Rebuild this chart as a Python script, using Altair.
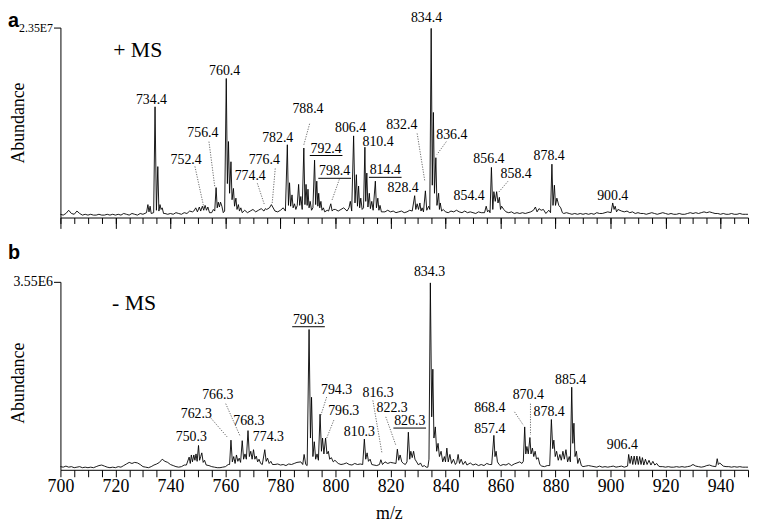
import altair as alt
import pandas as pd

FONT = "Liberation Serif"
W, H1, H2 = 695, 192, 190

X_MINOR_TICKS = list(range(700, 951, 5))
X_MAJOR_TICKS = [700, 720, 740, 760, 780, 800, 820, 840, 860, 880, 900, 920, 940]

NOISE_START = 700
# ---------- panel a (+MS), abundance in units of 1e6 ----------
TOP_NOISE = [
    0.4, 0.3, 0.5, 0.9, 0.5, 0.4, 0.8, 0.5, 0.3, 0.4,
    0.3, 0.4, 0.3, 0.3, 0.4, 0.3, 0.3, 0.4, 0.3, 0.4,
    0.3, 0.4, 0.3, 0.5, 0.4, 0.3, 0.5, 0.4, 0.3, 0.5,
    0.4, 0.5, 0.6, 0.5, 0.5, 0.6, 0.6, 0.8, 0.5, 0.4,
    0.5, 0.4, 0.6, 0.5, 0.4, 0.6, 0.5, 0.8, 0.7, 0.9,
    1.0, 0.8, 1.2, 0.9, 0.7, 1.0, 0.8, 1.5, 1.2, 1.4,
    1.0, 1.2, 1.0, 1.3, 1.1, 1.0, 1.3, 0.9, 0.6, 0.8,
    1.0, 0.7, 0.9, 1.1, 0.8, 1.0, 1.2, 1.0, 0.8, 0.7,
    0.9, 1.2, 1.5, 2.0, 1.8, 1.6, 2.0, 1.8, 1.5, 1.6,
    1.8, 1.4, 1.6, 1.8, 1.5, 1.2, 1.0, 0.9, 1.1, 0.8,
    1.0, 0.8, 1.0, 1.2, 0.9, 1.2, 1.5, 1.8, 1.6, 1.4,
    1.5, 1.8, 1.4, 1.3, 1.5, 1.2, 0.9, 0.8, 0.7, 0.9,
    0.7, 0.8, 0.6, 0.7, 0.8, 0.6, 0.7, 0.9, 1.0, 1.2,
    1.2, 1.0, 1.3, 1.1, 1.5, 2.0, 2.0, 1.6, 1.2, 0.9,
    0.7, 0.6, 0.8, 0.7, 0.9, 0.7, 0.6, 0.8, 0.6, 0.7,
    0.6, 0.5, 0.7, 0.6, 0.8, 0.9, 1.2, 1.4, 1.4, 1.2,
    1.0, 0.8, 0.7, 0.6, 0.7, 0.5, 0.6, 0.5, 0.6, 0.5,
    0.6, 0.7, 0.9, 0.8, 0.9, 0.7, 0.6, 0.7, 1.0, 1.4,
    1.2, 0.9, 0.7, 0.5, 0.6, 0.5, 0.4, 0.5, 0.4, 0.5,
    0.4, 0.5, 0.4, 0.5, 0.4, 0.6, 0.5, 0.5, 0.6, 0.7,
    0.9, 1.0, 0.8, 0.6, 0.8, 0.7, 0.8, 0.6, 0.7, 0.5,
    0.6, 0.5, 0.5, 0.4, 0.5, 0.6, 0.5, 0.4, 0.5, 0.6,
    0.5, 0.4, 0.5, 0.4, 0.4, 0.5, 0.4, 0.4, 0.5, 0.6,
    0.5, 0.6, 0.5, 0.6, 0.7, 0.6, 0.7, 0.6, 0.5, 0.5,
    0.4, 0.5, 0.4, 0.4, 0.5, 0.4, 0.4, 0.5, 0.4, 0.4,
    0.4,
]
TOP_PEAKS = [
    (731.3, 0.6), (731.8, 1.6), (732.2, 0.7), (732.6, 1.4), (733.0, 0.5), (733.9, 0.6),
    (734.4, 13.7), (734.9, 0.9), (735.4, 6.3), (735.8, 0.8), (736.2, 1.6), (736.6, 1.0),
    (737.0, 1.2), (737.5, 0.5),
    (748.5, 0.8), (749.2, 1.2), (749.8, 0.7), (750.5, 1.3), (751.0, 0.8), (751.6, 1.4),
    (752.1, 0.9), (752.6, 1.5), (753.1, 0.9), (753.6, 1.3), (754.2, 0.6), (755.0, 0.6),
    (755.6, 1.0), (756.1, 0.8), (756.6, 3.7), (757.0, 1.2), (757.4, 1.9), (757.8, 1.3),
    (758.2, 1.9), (758.7, 1.4), (759.2, 0.6), (759.7, 0.8),
    (760.3, 17.2), (760.7, 4.2), (761.1, 9.4), (761.5, 3.0), (762.0, 6.9), (762.4, 2.2),
    (762.9, 3.6), (763.3, 1.4), (763.8, 2.4), (764.2, 1.0), (764.7, 1.6), (765.1, 0.8),
    (765.6, 1.2), (766.1, 0.6),
    (774.5, 1.1), (776.7, 1.6),
    (781.8, 0.8), (782.5, 9.0), (782.9, 1.5), (783.3, 4.3), (783.7, 1.4), (784.2, 2.8),
    (784.6, 1.2), (785.1, 1.7), (785.6, 1.0), (786.1, 1.5), (786.6, 4.1), (787.0, 1.5),
    (787.4, 2.6), (787.9, 1.0), (788.5, 8.6), (788.9, 1.6), (789.3, 4.1), (789.7, 1.5),
    (790.0, 3.5), (790.4, 1.2), (790.8, 2.0), (791.3, 0.9), (791.8, 1.2), (792.4, 7.1),
    (792.8, 1.6), (793.2, 4.5), (793.6, 1.4), (793.9, 3.0), (794.3, 1.2), (794.7, 2.0),
    (795.1, 0.9), (795.6, 1.2), (796.1, 0.7),
    (797.5, 0.8), (798.3, 1.7), (798.8, 0.8), (799.3, 1.0),
    (804.2, 0.8), (804.9, 1.2), (805.4, 2.0), (805.9, 0.8), (806.6, 10.1), (807.1, 1.8),
    (807.6, 5.3), (808.0, 1.4), (808.4, 3.9), (808.8, 1.2), (809.2, 2.4), (809.7, 1.0),
    (810.2, 1.2), (810.7, 8.7), (811.0, 2.0), (811.4, 5.5), (811.8, 1.3), (812.3, 3.0),
    (812.7, 1.1), (813.2, 2.0), (813.7, 0.9), (814.5, 4.5), (814.9, 1.2), (815.4, 2.4),
    (815.8, 0.9), (816.2, 1.5), (816.7, 0.7),
    (827.9, 0.8), (828.8, 2.7), (829.2, 1.0), (829.7, 1.7), (830.2, 1.0), (830.7, 1.8),
    (831.1, 0.8), (831.5, 1.2), (832.0, 0.7), (832.7, 3.3), (833.2, 0.9), (833.9, 1.4),
    (834.3, 1.0), (834.8, 23.4), (835.2, 4.0), (835.6, 13.0), (836.0, 3.0), (836.5, 7.4),
    (836.9, 1.5), (837.5, 3.0), (837.8, 1.0), (838.1, 1.8), (838.6, 0.8), (839.2, 1.0),
    (854.2, 0.6), (854.8, 1.4), (855.3, 0.7), (855.8, 0.9), (856.2, 0.6), (856.7, 6.2),
    (857.2, 1.0), (857.6, 3.2), (858.1, 2.0), (858.6, 3.2), (859.1, 1.8), (859.6, 2.5),
    (860.0, 1.0), (860.4, 1.4), (861.2, 1.0),
    (872.7, 1.3), (873.3, 0.7), (874.0, 1.1), (874.8, 0.9), (875.6, 1.0), (876.5, 0.5),
    (877.6, 0.9), (878.2, 0.6), (878.7, 6.6), (879.1, 1.5), (879.6, 4.0), (880.0, 1.5),
    (880.5, 2.4), (881.2, 1.5), (881.9, 1.2), (882.5, 0.6),
    (900.2, 0.6), (900.8, 1.8), (901.3, 1.0), (901.7, 1.4), (902.2, 0.7), (902.7, 1.0),
]
TOP_LABELS = [
    ("834.4", 833.1, 24.7), ("760.4", 759.7, 18.1), ("734.4", 733.1, 14.5),
    ("756.4", 751.8, 10.4), ("752.4", 745.7, 7.06), ("774.4", 769.0, 5.09),
    ("776.4", 774.1, 7.06), ("782.4", 779.0, 9.88), ("788.4", 790.0, 13.44),
    ("792.4", 796.6, 8.53), ("798.4", 799.7, 5.71), ("806.4", 805.5, 11.1),
    ("810.4", 815.5, 9.39), ("814.4", 818.1, 5.83), ("828.4", 824.6, 3.66),
    ("832.4", 824.1, 11.47), ("836.4", 842.3, 10.25), ("854.4", 848.6, 2.64),
    ("856.4", 855.8, 7.18), ("858.4", 865.7, 5.34), ("878.4", 877.7, 7.55),
    ("900.4", 900.8, 2.64),
]
TOP_UNDERLINED = ["792.4", "798.4", "814.4"]
TOP_LEADERS = [
    (754.0, 9.39, 756.1, 3.87), (748.9, 6.32, 752.2, 1.17), (771.6, 4.23, 774.1, 1.66),
    (778.1, 6.07, 777.0, 1.78), (790.6, 11.6, 788.5, 9.0), (801.4, 4.72, 798.6, 2.02),
    (829.7, 10.4, 832.5, 4.48), (840.3, 9.39, 836.9, 7.79), (862.7, 4.48, 859.1, 3.04),
]

# ---------- panel b (-MS), abundance in units of 1e5 ----------
BOT_NOISE = [
    0.6, 0.5, 0.7, 0.5, 0.6, 0.4, 0.5, 0.6, 0.4, 0.5,
    0.4, 0.5, 0.4, 0.6, 0.8, 0.9, 0.7, 0.5, 0.4, 0.5,
    0.4, 0.6, 0.5, 0.8, 1.1, 1.4, 1.2, 1.4, 1.3, 1.0,
    0.6, 0.5, 0.4, 0.6, 0.9, 1.1, 1.4, 2.0, 1.6, 1.4,
    1.0, 0.8, 0.6, 0.5, 0.6, 0.9, 1.2, 2.4, 2.8, 3.0,
    3.5, 2.6, 1.8, 1.0, 0.8, 0.6, 0.5, 0.4, 0.4, 0.5,
    0.6, 1.0, 1.5, 2.0, 1.8, 2.2, 2.5, 2.4, 2.6, 2.8,
    2.4, 2.0, 2.0, 1.4, 1.6, 1.8, 1.3, 1.2, 1.0, 1.1,
    0.9, 1.0, 0.8, 1.1, 1.0, 1.2, 1.4, 1.5, 1.8, 1.6,
    3.0, 3.0, 2.5, 2.2, 2.5, 2.8, 2.6, 2.2, 1.8, 1.5,
    1.3, 1.2, 1.0, 1.1, 1.3, 1.0, 0.9, 1.2, 1.0, 1.1,
    1.5, 2.0, 1.6, 1.2, 0.9, 0.8, 1.0, 1.2, 1.5, 1.2,
    1.4, 1.3, 1.8, 1.9, 1.6, 1.2, 1.5, 2.0, 2.2, 1.6,
    0.9, 1.2, 0.6, 0.5, 0.5, 8.0, 6.0, 4.0, 2.5, 2.0,
    2.2, 2.0, 1.4, 1.6, 1.8, 1.5, 1.3, 1.4, 1.0, 1.3,
    0.9, 1.1, 0.8, 1.0, 0.8, 1.2, 1.0, 1.5, 1.8, 1.2,
    0.8, 1.0, 0.9, 1.2, 0.8, 1.1, 1.3, 1.5, 2.0, 2.5,
    2.5, 2.3, 2.0, 1.6, 1.0, 0.7, 0.6, 0.8, 2.0, 2.2,
    2.0, 2.0, 2.2, 2.0, 1.8, 2.0, 4.0, 2.0, 1.5, 0.9,
    0.6, 0.7, 0.8, 0.7, 0.6, 0.5, 0.7, 0.5, 0.6, 0.5,
    0.6, 0.7, 0.5, 0.6, 0.7, 0.5, 0.8, 1.5, 1.5, 1.5,
    1.4, 1.4, 1.3, 1.2, 1.1, 1.0, 0.9, 0.8, 0.6, 0.6,
    0.5, 0.6, 0.5, 0.5, 0.6, 0.5, 0.6, 0.5, 0.6, 0.7,
    1.0, 0.7, 0.6, 0.5, 0.6, 0.8, 0.9, 0.7, 0.8, 1.4,
    0.8, 0.7, 0.6, 0.6, 0.5, 0.6, 0.5, 0.6, 0.5, 0.5,
    0.5,
]
BOT_PEAKS = [
    (745.8, 0.9), (746.8, 2.4), (747.2, 1.2), (747.6, 2.8), (748.0, 1.5), (748.5, 2.8),
    (748.9, 1.8), (749.3, 3.0), (749.7, 1.6), (750.2, 4.6), (750.6, 1.8), (751.0, 2.5),
    (751.4, 3.2), (751.9, 1.4), (752.4, 1.8), (753.0, 0.9),
    (761.5, 1.0), (762.0, 5.6), (762.5, 1.5), (763.0, 2.5), (763.5, 1.2), (764.0, 2.8),
    (764.5, 1.6), (765.0, 2.2), (765.5, 1.4), (766.1, 5.5), (766.6, 2.0), (767.1, 3.0),
    (767.6, 2.0), (768.2, 7.4), (768.7, 2.5), (769.2, 3.5), (769.7, 2.0), (770.2, 3.8),
    (770.7, 2.0), (771.2, 2.6), (771.7, 1.5), (772.2, 2.0), (772.8, 1.2), (773.4, 1.0),
    (774.3, 3.8), (774.8, 1.6), (775.3, 2.2), (775.9, 1.2), (776.5, 1.6), (777.1, 1.0),
    (787.4, 1.5), (788.1, 1.0), (788.6, 2.9), (789.2, 1.0), (789.7, 0.8), (790.4, 26.5),
    (790.9, 6.0), (791.3, 13.7), (791.8, 2.5), (792.3, 5.3), (792.8, 2.0), (793.3, 3.0),
    (793.8, 1.8), (794.4, 10.5), (794.9, 3.5), (795.3, 6.0), (795.8, 3.0), (796.4, 6.0),
    (796.9, 3.0), (797.4, 3.5), (797.9, 2.0), (798.5, 2.3), (799.2, 1.5), (799.8, 1.8),
    (809.9, 1.0), (810.5, 5.8), (811.0, 2.0), (811.5, 3.2), (812.0, 1.6), (812.6, 2.0),
    (813.2, 1.0),
    (816.5, 1.9), (817.1, 1.0),
    (822.0, 1.2), (822.5, 3.9), (823.0, 1.8), (823.5, 2.8), (824.1, 1.5), (824.7, 1.2),
    (825.4, 1.0), (826.0, 1.5), (826.5, 7.1), (827.0, 2.0), (827.4, 3.5), (827.9, 2.3),
    (828.4, 3.5), (828.9, 2.0), (829.5, 1.5), (830.2, 0.9), (830.9, 1.3), (831.6, 0.6),
    (832.3, 0.8), (833.0, 0.5), (833.6, 0.5), (834.0, 2.0), (834.5, 35.3), (835.0, 10.0),
    (835.4, 19.0), (835.8, 6.0), (836.3, 8.1), (836.8, 3.5), (837.3, 5.0), (837.8, 2.5),
    (838.4, 3.5), (839.0, 1.5), (839.6, 2.5), (840.0, 1.5), (840.5, 4.1), (841.0, 1.5),
    (841.6, 2.9), (842.2, 1.2), (842.9, 2.0), (843.6, 1.0), (844.1, 1.4), (844.6, 2.9),
    (845.1, 1.2), (845.7, 2.0), (846.4, 1.0), (847.2, 1.6), (847.8, 0.9),
    (856.8, 1.0), (857.6, 6.5), (858.0, 2.5), (858.4, 3.5), (858.9, 1.5), (859.5, 1.0),
    (867.8, 1.2), (868.3, 1.6), (868.8, 8.1), (869.2, 3.0), (869.6, 4.4), (870.1, 3.0),
    (870.7, 6.1), (871.1, 3.0), (871.6, 4.1), (872.1, 2.5), (872.6, 3.5), (873.1, 2.0),
    (873.7, 2.3), (874.3, 1.0),
    (877.9, 0.8), (878.5, 9.5), (879.0, 4.0), (879.4, 5.6), (879.9, 2.5), (880.4, 3.5),
    (881.0, 1.8), (881.6, 2.9), (882.1, 1.8), (882.7, 3.5), (883.2, 2.0), (883.8, 3.8),
    (884.4, 1.5), (885.0, 2.5), (885.4, 1.5), (885.9, 15.6), (886.3, 5.0), (886.7, 8.8),
    (887.1, 2.5), (887.6, 3.5), (888.1, 1.2), (888.7, 2.2), (889.4, 0.8),
    (906.2, 0.7), (906.6, 2.9), (907.1, 1.2), (907.6, 2.6), (908.1, 1.0), (908.6, 2.6),
    (909.1, 1.0), (909.6, 2.6), (910.1, 1.0), (910.6, 2.5), (911.1, 1.0), (911.6, 2.3),
    (912.1, 0.9), (912.7, 2.0), (913.3, 1.0), (914.0, 1.8), (914.7, 0.9), (915.4, 1.6),
    (916.1, 0.9), (916.8, 1.2), (917.5, 0.7),
    (938.3, 0.6), (938.8, 2.1), (939.2, 1.0), (939.7, 1.3),
]
BOT_LABELS = [
    ("834.3", 834.2, 37.3), ("790.3", 790.2, 28.33), ("766.3", 757.2, 14.04),
    ("762.3", 749.4, 10.62), ("768.3", 768.5, 9.19), ("750.3", 747.6, 6.10),
    ("774.3", 775.6, 6.10), ("794.3", 800.4, 15.1), ("796.3", 803.0, 11.05),
    ("810.3", 808.7, 7.21), ("816.3", 815.5, 14.45), ("822.3", 820.6, 11.69),
    ("826.3", 827.0, 9.19), ("868.4", 856.1, 11.69), ("870.4", 870.1, 14.17),
    ("857.4", 856.1, 7.70), ("878.4", 877.7, 10.94), ("885.4", 885.5, 16.96),
    ("906.4", 904.3, 4.60),
]
BOT_UNDERLINED = ["790.3", "826.3"]
BOT_LEADERS = [
    (760.1, 12.49, 765.4, 6.28), (754.2, 10.07, 760.8, 6.10), (796.8, 13.74, 794.7, 10.31),
    (799.4, 9.38, 796.8, 5.97), (813.6, 13.1, 816.9, 3.17), (818.3, 10.0, 821.9, 4.72),
    (865.1, 10.94, 868.3, 8.44), (870.9, 12.49, 870.9, 6.58),
]


def spectrum_frame(noise, peaks):
    pk = [p[0] for p in peaks]
    rows = []
    for i, v in enumerate(noise):
        m = NOISE_START + i
        if min(abs(m - p) for p in pk) >= 0.5:
            rows.append((float(m), v))
    rows += [(float(a), b) for a, b in peaks]
    rows.sort()
    return pd.DataFrame(rows, columns=["mz", "ab"])


def panel(noise, peaks, labels, underlined, leaders, ms_text, ms_pos, letter, letter_y,
          ymax, ytick_text, ytick_size, height, is_bottom, title_shift):
    xs = alt.Scale(domain=[700, 950], nice=False, zero=False)
    ys = alt.Scale(domain=[0, ymax], nice=False, zero=False)
    px_per_mz = W / 250.0
    yax = alt.Axis(values=[ymax], labelExpr=f"'{ytick_text}'", tickSize=7, tickColor="black",
                   domainColor="black", labelFont=FONT, labelFontSize=ytick_size,
                   labelColor="black", labelPadding=1, grid=False, title="Abundance",
                   titleFont=FONT, titleFontSize=18, titleFontWeight="normal",
                   titleColor="black", titleX=-37, titleY=height / 2 + title_shift,
                   titleBaseline="alphabetic", titleAngle=270)
    spec = spectrum_frame(noise, peaks)

    if is_bottom:
        x_main = alt.Axis(values=X_MINOR_TICKS, tickSize=7, tickColor="black",
                          domainColor="black", grid=False, labelFont=FONT,
                          labelFontSize=18, labelColor="black", labelPadding=1,
                          labelOverlap=False, labelFlush=False,
                          labelExpr="datum.value % 20 == 0 ? datum.label : ''",
                          title="m/z", titleFont=FONT, titleFontSize=18,
                          titleFontWeight="normal", titleColor="black", titlePadding=9,
                          titleX=332, orient="bottom")
        x_text = x_main
        x_other = x_main
    else:
        x_main = alt.Axis(values=X_MINOR_TICKS, tickSize=6, tickColor="black",
                          domainColor="black", grid=False, labels=False, title=None,
                          orient="bottom")
        x_text = alt.Axis(values=X_MAJOR_TICKS, tickSize=11, tickColor="black",
                          domain=False, grid=False, labels=False, title=None,
                          orient="bottom")
        x_other = None

    line = alt.Chart(spec).mark_line(color="black", strokeWidth=0.9).encode(
        x=alt.X("mz:Q", scale=xs, axis=x_main),
        y=alt.Y("ab:Q", scale=ys, axis=yax),
    )

    lab = pd.DataFrame(labels, columns=["t", "mz", "ab"])
    text = alt.Chart(lab).mark_text(font=FONT, fontSize=14, color="black",
                                    baseline="middle", align="center").encode(
        x=alt.X("mz:Q", scale=xs, axis=x_text),
        y=alt.Y("ab:Q", scale=ys, axis=yax),
        text="t:N",
    )

    ul = lab[lab["t"].isin(underlined)].copy()
    half = 16.5 / px_per_mz
    ul["x1"] = ul["mz"] - half
    ul["x2"] = ul["mz"] + half
    under = alt.Chart(ul).mark_rule(color="black", strokeWidth=1, yOffset=7).encode(
        x=alt.X("x1:Q", scale=xs, axis=x_other),
        x2="x2:Q",
        y=alt.Y("ab:Q", scale=ys, axis=yax),
    )

    ld = pd.DataFrame(leaders, columns=["x1", "y1", "x2", "y2"])
    lead = alt.Chart(ld).mark_rule(color="#444444", strokeWidth=0.8,
                                   strokeDash=[1.2, 1.4]).encode(
        x=alt.X("x1:Q", scale=xs, axis=x_other),
        x2="x2:Q",
        y=alt.Y("y1:Q", scale=ys, axis=yax),
        y2="y2:Q",
    )

    ms = pd.DataFrame({"t": [ms_text], "mz": [ms_pos[0]], "ab": [ms_pos[1]]})
    ms_mark = alt.Chart(ms).mark_text(font=FONT, fontSize=22, color="black",
                                      baseline="middle", align="center").encode(
        x=alt.X("mz:Q", scale=xs, axis=x_other),
        y=alt.Y("ab:Q", scale=ys, axis=yax),
        text="t:N",
    )

    let = pd.DataFrame({"t": [letter]})
    let_mark = alt.Chart(let).mark_text(font="Liberation Sans", fontSize=20,
                                        fontWeight="bold", color="black",
                                        baseline="top", align="left").encode(
        x=alt.value(-53), y=alt.value(letter_y), text="t:N",
    )

    layers = [line, text, under, lead, ms_mark, let_mark]
    ch = alt.layer(*layers).properties(width=W, height=height)
    if not is_bottom:
        ch = ch.resolve_axis(x="independent")
    return ch


top = panel(TOP_NOISE, TOP_PEAKS, TOP_LABELS, TOP_UNDERLINED, TOP_LEADERS,
            "+ MS", (728.1, 20.67), "a", -17, 23.5, "2.35E7", 12, H1, False, 0)
bottom = panel(BOT_NOISE, BOT_PEAKS, BOT_LABELS, BOT_UNDERLINED, BOT_LEADERS,
               "- MS", (726.8, 31.45), "b", -39, 35.5, "3.55E6", 14, H2, True, 7)

chart = alt.vconcat(top, bottom, spacing=65, bounds="flush").properties(
    padding=0, background="white"
).configure_view(stroke=None)

chart.save("out.html", embed_options={"renderer": "svg", "actions": False})
